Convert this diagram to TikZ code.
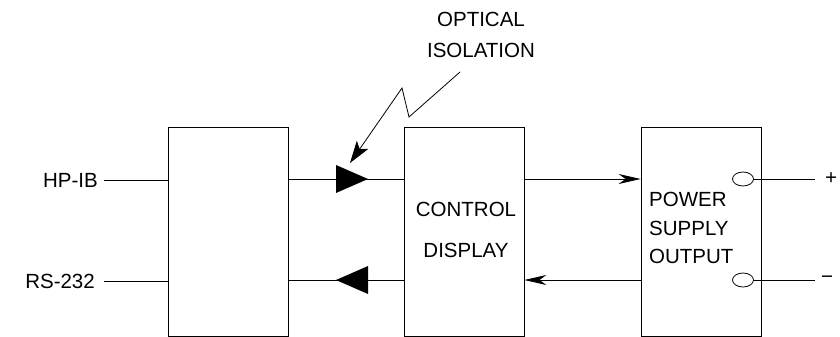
\documentclass[tikz,border=0pt]{standalone}
\usepackage{fontspec}
\setmainfont{Liberation Sans}
\usetikzlibrary{arrows.meta,shapes.geometric,positioning}

\tikzset{
  blk/.style={draw,line width=0.8pt,minimum width=120pt,minimum height=209pt,inner sep=0pt},
  lbl/.style={font=\fontsize{20.5}{24}\selectfont,inner sep=0pt},
  port/.style={draw,ellipse,line width=0.8pt,minimum width=21pt,minimum height=14pt,inner sep=0pt},
  wire/.style={line width=0.8pt},
  tip/.style={-{Stealth[length=22pt,width=10pt,inset=7pt]}},
}

\begin{document}
\begin{tikzpicture}[x=1pt,y=-1pt]
        \useasboundingbox (0,0) rectangle (840,337);
        % blocks
        \node[blk] (ifc) at (228,231.5) {};
        \node[blk] (ctl) at (464,231.5) {};
        \node[blk] (ps) at (701,231.5) {};
        \node[lbl,align=center,font=\fontsize{20.5}{41}\selectfont] (ctltxt) at (466,230) {CONTROL\\DISPLAY};
        \node[lbl,align=left,anchor=west,font=\fontsize{20.5}{28.5}\selectfont] (pstxt) at (649,228) {POWER\\SUPPLY\\OUTPUT};

        % inputs
        \node[lbl,anchor=east] (hp) at (98,180) {HP-IB};
        \node[lbl,anchor=east] (rs) at (95,281) {RS-232};
        \draw[wire] ([xshift=6pt]hp.east) -- (ifc.west |- hp);
        \draw[wire] ([xshift=9pt]rs.east) -- (ifc.west |- rs);

        % optical links
        \coordinate (t1) at (352,179);
        \coordinate (t2) at (352,280);
        \draw[wire] (ifc.east |- t1) -- (ctl.west |- t1);
        \draw[wire] (ifc.east |- t2) -- (ctl.west |- t2);
        \fill (t1) ++(-16,-14) -- ++(32,14) -- ++(-32,14) -- cycle;
        \fill (t2) ++(16,-14) -- ++(-32,14) -- ++(32,14) -- cycle;

        \draw[wire,tip] (ctl.east |- t1) -- (ps.west |- t1);
        \draw[wire,tip] (ps.west |- t2) -- (ctl.east |- t2);

        % outputs
        \node[port] (op) at (743,179) {};
        \node[port] (om) at (743,280) {};
        \node[lbl,anchor=west] (plus) at (825,179) {+};
        \node[lbl,anchor=west] (minus) at (821,280) {−};
        \draw[wire] (op.east) -- ([xshift=-10pt]plus.west);
        \draw[wire] (om.east) -- ([xshift=-6pt]minus.west);

        % label and pointer
        \node[lbl,align=center,font=\fontsize{20.5}{31}\selectfont] (opt) at (481,35) {OPTICAL\\ISOLATION};
        \coordinate (z0) at (460,72);
        \coordinate (z3) at (350,163);
        \draw[wire,-{Stealth[length=22pt,width=14pt,inset=5pt]}] (z0) -- (409,117) -- (402,88) -- (z3);
\end{tikzpicture}
\end{document}
